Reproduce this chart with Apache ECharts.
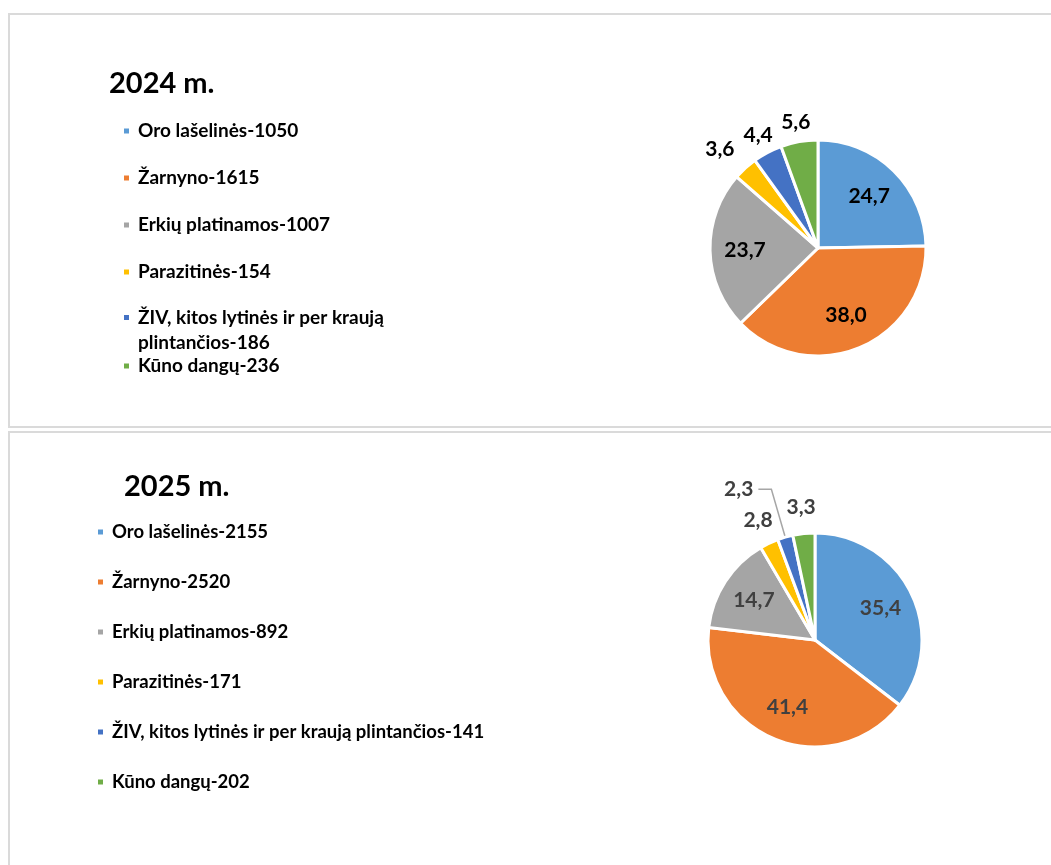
<!DOCTYPE html>
<html>
<head>
<meta charset="utf-8">
<title>Užkrečiamos ligos 2024–2025</title>
<script src="https://cdn.jsdelivr.net/npm/echarts@6/dist/echarts.min.js"></script>
<style>
html, body {
    margin: 0;
    padding: 0;
    width: 1051px;
    height: 865px;
    overflow: hidden;
    background: #fff;
}
.panel {
    position: absolute;
    left: 8px;
    width: 1070px;
    box-sizing: border-box;
    border: 2px solid #dadada;
}
#p2024 { top: 13px; height: 415px; }
#p2025 { top: 431px; height: 460px; }
.chart { width: 100%; height: 100%; }
</style>
</head>
<body>
<div class="panel" id="p2024"><div class="chart" id="c2024"></div></div>
<div class="panel" id="p2025"><div class="chart" id="c2025"></div></div>

<script>
// ligų grupės
const categories = ['Oro lašelinės', 'Žarnyno', 'Erkių platinamos', 'Parazitinės',
    'ŽIV, kitos lytinės ir per kraują plintančios', 'Kūno dangų'];
// atvejų skaičius
const values2024 = [1050, 1615, 1007, 154, 186, 236];
const values2025 = [2155, 2520, 892, 171, 141, 202];
const titles = ['2024 m.', '2025 m.'];

const colors = ['#5B9BD5', '#ED7D31', '#A5A5A5', '#FFC000', '#4472C4', '#70AD47'];
const FONT = 'Lato, "Open Sans", sans-serif';

const pctText = (v, sum) => (v / sum * 100).toFixed(1).replace('.', ',');

function makeOption(cfg) {
    const sum = cfg.values.reduce((a, b) => a + b, 0);
    const data = categories.map((name, i) => ({ name: name, value: cfg.values[i] }));
    const isBig = v => v / sum >= 0.1;

    const labelStyle = {
        fontFamily: FONT,
        fontWeight: 'bold',
        fontSize: 21,
        color: cfg.labelColor,
        formatter: p => pctText(p.value, sum)
    };

    // legendos: atskiros grupės, kad eilutės sutaptų su originalu
    const legendBase = {
        orient: 'vertical',
        left: cfg.legendLeft,
        padding: 0,
        itemWidth: 7,
        itemHeight: 7,
        icon: 'rect',
        selectedMode: false,
        textStyle: {
            fontFamily: FONT,
            fontWeight: 'bold',
            fontSize: cfg.legendFont,
            color: '#000',
            lineHeight: 24,
            padding: [0, 0, 0, 3]
        },
        formatter: name => {
            const i = categories.indexOf(name);
            return cfg.wrap && cfg.wrap[name] ? cfg.wrap[name](cfg.values[i]) : name + '-' + cfg.values[i];
        }
    };
    const legend = cfg.legends.map(l => Object.assign({}, legendBase, {
        top: l.top,
        itemGap: l.gap || 0,
        data: l.names,
        textStyle: Object.assign({}, legendBase.textStyle, l.lineHeight ? { lineHeight: l.lineHeight } : {})
    }));

    const pieBase = {
        type: 'pie',
        center: cfg.center,
        startAngle: 90,
        clockwise: true,
        animation: false,
        labelLayout: { hideOverlap: false }
    };

    return {
        backgroundColor: '#fff',
        color: colors,
        title: {
            text: cfg.title,
            left: cfg.titleLeft,
            top: cfg.titleTop,
            padding: 0,
            textStyle: { fontFamily: FONT, fontWeight: 'bold', fontSize: 29, lineHeight: 32, color: '#000' }
        },
        legend: legend,
        series: [
            // pagrindinis skritulys
            Object.assign({}, pieBase, {
                name: cfg.title,
                radius: [0, cfg.r],
                itemStyle: { borderColor: '#fff', borderWidth: 3 },
                label: Object.assign({ show: false, position: 'outside', distanceToLabelLine: 5 }, labelStyle),
                labelLine: {
                    show: false,
                    length: 50,
                    length2: 13,
                    smooth: false,
                    lineStyle: { color: '#a6a6a6', width: 1.5 }
                },
                emphasis: { disabled: true },
                data: data.map((d, i) => i === cfg.calloutIdx
                    ? Object.assign({}, d, { label: { show: true }, labelLine: { show: true } })
                    : d)
            }),
            // didžiųjų dalių etiketės skritulio viduje
            Object.assign({}, pieBase, {
                radius: [0, 140],
                silent: true,
                legendHoverLink: false,
                itemStyle: { color: 'rgba(0,0,0,0)', borderWidth: 0 },
                label: Object.assign({ position: 'inside' }, labelStyle),
                labelLine: { show: false },
                emphasis: { disabled: true },
                data: data.map(d => Object.assign({}, d, { label: { show: isBig(d.value) } }))
            }),
            // mažųjų dalių etiketės už skritulio
            Object.assign({}, pieBase, {
                radius: cfg.outerRing,
                silent: true,
                legendHoverLink: false,
                itemStyle: { color: 'rgba(0,0,0,0)', borderWidth: 0 },
                label: Object.assign({ position: 'inside' }, labelStyle),
                labelLine: { show: false },
                emphasis: { disabled: true },
                data: data.map((d, i) => Object.assign({}, d, {
                    label: Object.assign(
                        { show: !isBig(d.value) && i !== cfg.calloutIdx },
                        cfg.labelNudge && cfg.labelNudge[i] ? { offset: cfg.labelNudge[i] } : {}
                    )
                }))
            })
        ]
    };
}

const chart2024 = echarts.init(document.getElementById('c2024'));
chart2024.setOption(makeOption({
    title: titles[0],
    values: values2024,
    titleLeft: 99,
    titleTop: 53,
    center: [808, 233],
    r: 108,
    outerRing: [116, 134],
    labelNudge: { 3: [-12, -4] },
    labelColor: '#000',
    legendLeft: 112,
    legendFont: 19,
    calloutIdx: -1,
    wrap: {
        'ŽIV, kitos lytinės ir per kraują plintančios': v =>
            '\nŽIV, kitos lytinės ir per kraują\nplintančios-' + v
    },
    legends: [
        { top: 104, gap: 23, names: categories.slice(0, 4) },
        { top: 265, lineHeight: 25, names: [categories[4]] },
        { top: 339, names: [categories[5]] }
    ]
}));

const chart2025 = echarts.init(document.getElementById('c2025'));
chart2025.setOption(makeOption({
    title: titles[1],
    values: values2025,
    titleLeft: 114,
    titleTop: 38,
    center: [805, 207],
    r: 107,
    outerRing: [121, 139],
    labelColor: '#404040',
    legendLeft: 86,
    legendFont: 18.5,
    calloutIdx: 4,
    legends: [
        { top: 87, gap: 26, names: categories }
    ]
}));

window.addEventListener('resize', () => {
    chart2024.resize();
    chart2025.resize();
});
</script>
</body>
</html>
